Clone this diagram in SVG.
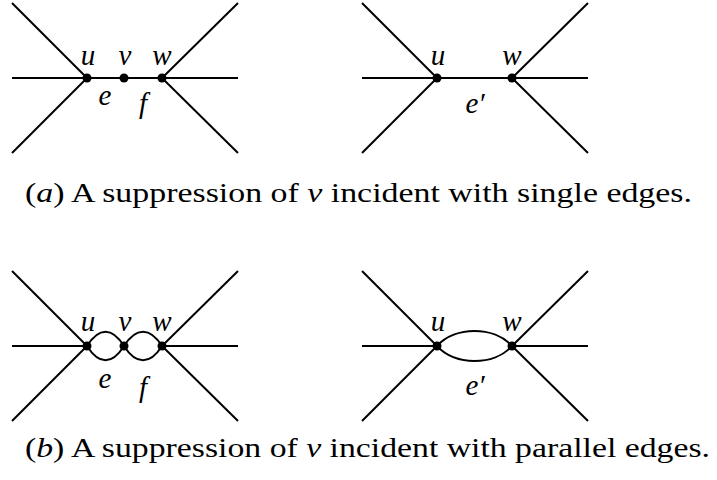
<svg xmlns="http://www.w3.org/2000/svg" width="717" height="480" viewBox="0 0 717 480">
<style>
.e{stroke:#000;stroke-width:2;fill:none;stroke-linecap:butt}
.n{fill:#000}
.m{font-family:"Liberation Serif","DejaVu Serif",serif;font-style:italic;font-size:29px;fill:#000;text-anchor:middle}
.c{font-family:"Liberation Serif","DejaVu Serif",serif;font-size:27px;fill:#000}
.i{font-style:italic}
</style>
<rect width="717" height="480" fill="#fff"/>
<g id="connectors">
<path class="e" d="M12 3 L87 78 L12 153 M12 78 H238 M238 3 L162 78 L238 153"/>
<path class="e" d="M362 3 L437 78 L362 153 M362 78 H588 M588 3 L512 78 L588 153"/>
<path class="e" d="M12 271 L87 346 L12 421 M12 346 H87 M162 346 H238 M238 271 L162 346 L238 421"/>
<path class="e" d="M87 346 C99 327 112 327 124 346 C136 327 150 327 162 346 M87 346 C99 365 112 365 124 346 C136 365 150 365 162 346"/>
<path class="e" d="M362 271 L437 346 L362 421 M362 346 H437 M512 346 H588 M588 271 L512 346 L588 421"/>
<path class="e" d="M437 346 C455 326 494 326 512 346 M437 346 C455 366 494 366 512 346"/>
</g>
<g id="node-u-a1"><circle class="n" cx="87" cy="78" r="4.5"/><text class="m" x="88" y="65">u</text></g>
<g id="node-v-a1"><circle class="n" cx="124" cy="78" r="4.5"/><text class="m" x="125" y="65">v</text></g>
<g id="node-w-a1"><circle class="n" cx="162" cy="78" r="4.5"/><text class="m" x="162" y="65">w</text></g>
<g id="label-e-a1"><text class="m" x="105" y="105">e</text></g>
<g id="label-f-a1"><text class="m" x="143" y="113">f</text></g>
<g id="node-u-a2"><circle class="n" cx="437" cy="78" r="4.5"/><text class="m" x="438" y="65">u</text></g>
<g id="node-w-a2"><circle class="n" cx="512" cy="78" r="4.5"/><text class="m" x="512" y="65">w</text></g>
<g id="label-e-a2"><text class="m" x="475" y="113">e′</text></g>
<g id="node-u-b1"><circle class="n" cx="87" cy="346" r="4.5"/><text class="m" x="88" y="331">u</text></g>
<g id="node-v-b1"><circle class="n" cx="124" cy="346" r="4.5"/><text class="m" x="125" y="331">v</text></g>
<g id="node-w-b1"><circle class="n" cx="162" cy="346" r="4.5"/><text class="m" x="162" y="331">w</text></g>
<g id="label-e-b1"><text class="m" x="105" y="388">e</text></g>
<g id="label-f-b1"><text class="m" x="143" y="397">f</text></g>
<g id="node-u-b2"><circle class="n" cx="437" cy="346" r="4.5"/><text class="m" x="438" y="331">u</text></g>
<g id="node-w-b2"><circle class="n" cx="512" cy="346" r="4.5"/><text class="m" x="512" y="331">w</text></g>
<g id="label-e-b2"><text class="m" x="475" y="395">e′</text></g>
<g id="caption-a"><text class="c" x="25" y="202" textLength="667" lengthAdjust="spacingAndGlyphs">(<tspan class="i">a</tspan>) A suppression of <tspan class="i">v</tspan> incident with single edges.</text></g>
<g id="caption-b"><text class="c" x="25" y="457" textLength="685" lengthAdjust="spacingAndGlyphs">(<tspan class="i">b</tspan>) A suppression of <tspan class="i">v</tspan> incident with parallel edges.</text></g>
</svg>
